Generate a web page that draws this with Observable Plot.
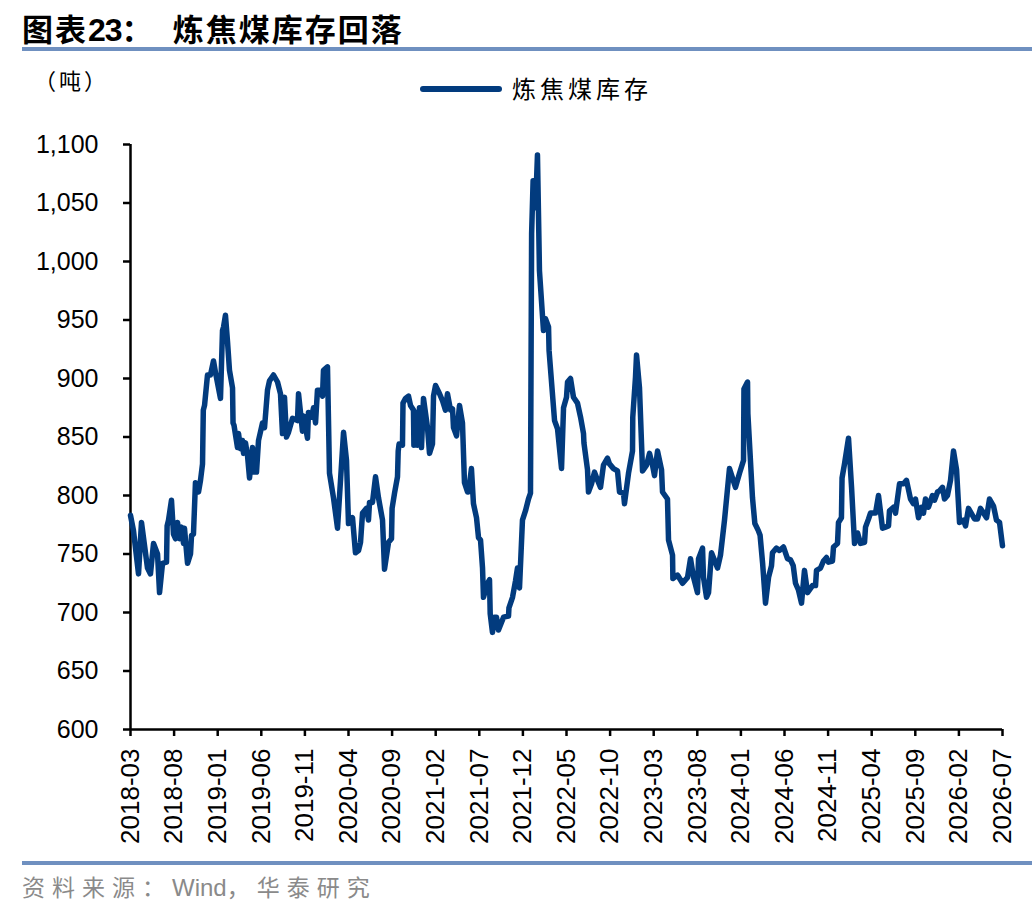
<!DOCTYPE html>
<html>
<head>
<meta charset="utf-8">
<script src="https://cdn.jsdelivr.net/npm/d3@7"></script>
<script src="https://cdn.jsdelivr.net/npm/@observablehq/plot@0.6"></script>
<style>
  html, body { margin: 0; padding: 0; background: #fff; }
  #page { position: relative; width: 1036px; height: 916px; overflow: hidden; background: #fff;
          font-family: "Liberation Sans", Arial, "Noto Sans CJK SC", sans-serif; }
  .abs { position: absolute; white-space: nowrap; }
  #title { left: 22px; top: 11px; font-size: 31px; line-height: 34px; font-weight: 700; color: #000;
           font-family: "Noto Sans CJK SC", sans-serif; letter-spacing: 2px; }
  #title .num { font-family: "Liberation Sans", Arial, sans-serif; font-weight: 700; letter-spacing: -1px; font-size: 32px; }
  .rule { position: absolute; left: 22px; width: 1010px; height: 4px; background: #6f90c0; }
  #unit { left: 34px; top: 65px; font-size: 22px; line-height: 28px; letter-spacing: 3px; font-family: "Noto Sans CJK SC", sans-serif; }
  #legLine { left: 420px; top: 86px; width: 82px; height: 6px; border-radius: 3px; background: #023b7e; }
  #legText { left: 512px; top: 73px; font-size: 24px; line-height: 30px; letter-spacing: 4px;
             font-family: "Noto Sans CJK SC", sans-serif; }
  #chart { left: 0; top: 110px; }
  #source { left: 22px; top: 872px; font-size: 23px; line-height: 28px; color: #8a8a8a; letter-spacing: 7px;
            font-family: "Noto Sans CJK SC", sans-serif; }
  #source .en { font-family: "Liberation Sans", Arial, sans-serif; letter-spacing: 0; font-size: 24px; }
</style>
</head>
<body>
<div id="page">
  <div id="title" class="abs">图表<span class="num">23</span>：&nbsp;&nbsp;炼焦煤库存回落</div>
  <div class="rule" style="top:47px"></div>
  <div id="unit" class="abs">（吨）</div>
  <div id="legLine" class="abs"></div>
  <div id="legText" class="abs">炼焦煤库存</div>
  <div id="chart" class="abs"></div>
  <div class="rule" style="top:861px"></div>
  <div id="source" class="abs">资料来源：<span class="en">Wind</span>，华泰研究</div>
</div>
<script>
// X tick labels (every 5 months, starting 2018-03)
const tickLabels = ["2018-03","2018-08","2019-01","2019-06","2019-11","2020-04","2020-09","2021-02","2021-07","2021-12","2022-05","2022-10","2023-03","2023-08","2024-01","2024-06","2024-11","2025-04","2025-09","2026-02","2026-07"];
const tickPositions = tickLabels.map((_, i) => i * 5); // months since 2018-03
const yTicks = [600, 650, 700, 750, 800, 850, 900, 950, 1000, 1050, 1100];

// Time position of each observation: months elapsed since 2018-03
const months = [
  0.0,0.34,0.92,1.26,1.95,2.29,2.64,3.10,3.33,3.67,4.13,4.2,4.36,4.70,4.93,5.16,5.39,5.62,5.85,6.08,
  6.19,6.54,6.88,7.0,7.22,7.45,7.80,8.03,8.26,8.35,8.49,8.83,9.17,9.52,9.75,10.32,10.55,10.67,10.89,11.12,
  11.35,11.70,11.76,11.87,12.27,12.39,12.61,12.84,12.96,13.19,13.42,13.65,13.99,14.22,14.45,14.68,15.14,15.37,15.71,15.94,
  16.40,16.86,17.20,17.43,17.66,17.89,18.12,18.58,19.15,19.27,19.72,19.84,20.30,20.41,20.76,20.99,21.22,21.44,21.79,22.02,
  22.13,22.59,22.82,23.28,23.74,24.43,24.77,25.00,25.46,25.80,26.15,26.38,26.61,27.06,27.29,27.41,27.75,28.10,28.44,28.90,
  29.13,29.59,29.93,30.0,30.28,30.62,30.7,30.8,31.19,31.25,31.54,31.88,32.11,32.45,32.5,32.80,32.91,33.14,33.37,33.60,
  34.06,34.29,34.63,34.75,34.98,35.44,35.78,36.12,36.35,36.70,36.93,37.04,37.39,37.73,38.07,38.30,38.65,38.76,39.10,39.33,
  39.68,39.91,40.14,40.37,40.48,40.94,41.17,41.25,41.51,41.74,41.97,42.20,42.78,43.35,43.4,43.81,44.15,44.38,44.61,44.95,
  45.30,45.64,45.87,46.0,46.17,46.45,46.67,46.90,47.36,47.59,47.94,48.0,48.63,48.97,49.43,49.66,50.00,50.12,50.46,50.80,
  51.26,51.61,51.95,52.0,52.41,52.52,52.87,53.21,53.56,53.90,54.24,54.70,54.93,55.39,55.85,56.08,56.54,56.65,57.11,57.57,
  57.6,57.91,58.03,58.37,58.72,59.18,59.52,59.86,60.09,60.44,60.90,61.01,61.58,61.70,62.16,62.2,62.73,63.31,63.88,64.22,
  64.57,65.02,65.14,65.60,65.71,66.06,66.29,66.63,67.32,67.66,68.12,68.69,69.38,69.84,70.30,70.35,70.76,70.8,71.33,71.6,
  72.0,72.2,72.49,72.82,73.17,73.51,73.62,74.08,74.42,74.88,75.34,75.69,76.0,76.26,76.61,76.95,77.29,77.64,78.21,78.56,
  78.67,79.13,79.47,79.82,80.04,80.50,80.62,81.08,81.19,81.53,81.6,81.88,82.34,82.69,83.03,83.38,83.72,84.18,84.29,84.64,
  84.86,85.44,85.78,86.24,86.58,86.93,87.04,87.50,87.73,88.19,88.65,88.99,89.45,89.79,90.02,90.37,90.71,90.94,91.17,91.51,
  91.97,92.20,92.55,92.78,93.12,93.35,93.69,94.04,94.38,94.73,95.07,95.53,95.76,96.10,96.56,96.79,97.13,97.48,97.82,98.17,
  98.51,98.97,99.31,99.66,100.0
];
// Coking coal inventory (tonnes)
const stock = [
  783,770,733,777,738,733,759,750,717,742,743,774,779,796,767,763,777,763,773,759,
  772,742,750,766,767,811,803,813,827,873,877,903,903,915,905,883,941,944,954,932,
  907,892,862,860,841,853,840,847,836,845,834,815,841,820,820,847,862,858,890,898,
  903,897,887,853,884,850,854,866,864,887,855,868,849,871,867,875,862,890,890,885,
  907,910,819,798,772,854,830,776,781,751,753,760,785,789,779,794,794,816,798,779,
  737,760,763,789,802,816,838,844,843,879,883,885,877,873,843,871,843,875,841,883,
  858,836,844,885,894,887,881,873,887,873,874,858,851,877,862,811,803,803,823,793,
  781,764,762,738,713,725,728,699,683,696,696,685,696,697,704,713,727,738,721,779,
  787,797,802,1024,1069,1046,1091,992,941,951,944,924,864,857,823,875,884,897,900,884,
  879,867,853,845,822,803,810,820,813,807,826,832,827,823,821,803,802,793,819,838,
  867,901,920,892,821,826,836,826,817,838,822,803,797,762,749,729,732,725,730,746,
  730,717,746,755,730,713,717,751,738,749,779,823,807,819,830,891,897,870,798,776,
  770,766,742,708,730,740,751,755,753,756,746,745,740,725,719,708,736,717,723,723,
  736,738,744,747,743,744,756,759,777,781,815,827,849,807,759,768,759,760,773,780,
  785,785,800,772,773,774,787,790,785,810,810,813,797,793,797,781,790,785,797,790,
  800,796,803,804,807,797,800,813,838,822,777,779,774,789,783,780,780,789,785,781,
  797,791,779,777,757
];

const data = months.map((m, i) => ({m, v: stock[i]}));
const labelAt = new Map(tickPositions.map((p, i) => [p, tickLabels[i]]));

const chart = Plot.plot({
  width: 1036,
  height: 740,
  marginLeft: 130,
  marginRight: 34,
  marginTop: 34,
  marginBottom: 121,
  style: {fontFamily: '"Liberation Sans", Arial, sans-serif', color: "#000", background: "transparent", overflow: "visible"},
  x: {domain: [0, 100], label: null},
  y: {domain: [600, 1100], label: null},
  marks: [
    Plot.axisY({ticks: yTicks, tickFormat: d3.format(","), tickSize: 7, tickPadding: 25, fontSize: 25, strokeWidth: 2.5, label: null}),
    Plot.axisX({ticks: tickPositions, tickFormat: d => labelAt.get(d), tickRotate: -90, tickSize: 7, tickPadding: 12, fontSize: 26, strokeWidth: 2.5, label: null}),
    Plot.ruleX([0], {y1: 600, y2: 1100, strokeWidth: 2.5, stroke: "#000"}),
    Plot.ruleY([600], {strokeWidth: 2.5, stroke: "#000"}),
    Plot.line(data, {x: "m", y: "v", stroke: "#023b7e", strokeWidth: 5.5, strokeLinejoin: "round", strokeLinecap: "round"})
  ]
});
document.getElementById("chart").appendChild(chart);
</script>
</body>
</html>
